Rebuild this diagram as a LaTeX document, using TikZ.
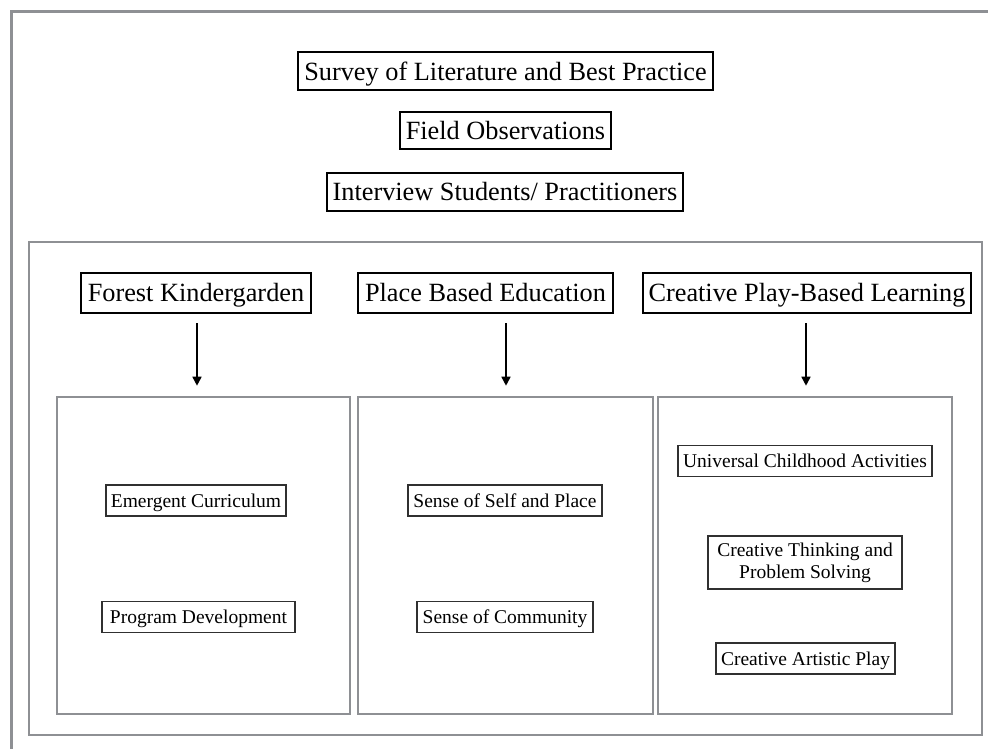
\documentclass[tikz,border=0pt]{standalone}
\usepackage{fontspec}
\setmainfont{Liberation Serif}
\usetikzlibrary{arrows.meta}
\definecolor{framegray}{HTML}{8E9094}
\definecolor{boxline}{HTML}{303030}
\begin{document}
\begin{tikzpicture}[x=1pt,y=-1pt,
  bigtext/.style={font=\fontsize{26.3}{31}\selectfont},
  topbox/.style={bigtext, text height=20pt, text depth=2pt, draw=black, line width=1.2pt, inner sep=0pt, minimum height=38pt},
  headbox/.style={bigtext, text height=19pt, text depth=3pt, draw=black, line width=2.4pt, inner sep=0pt, minimum height=40pt},
  colbox/.style={draw=framegray, line width=2.6pt, inner sep=0pt, minimum height=317pt},
  smallbox/.style={draw=boxline, line width=1.1pt, inner sep=0pt, font=\fontsize{19.5}{23}\selectfont, text height=15pt, text depth=2pt, minimum height=31pt, align=center},
  arr/.style={-{Triangle[length=9pt,width=9pt]}, line width=1.6pt, black, shorten <=10pt, shorten >=10pt}
]
\clip (0,0) rectangle (988,748);
\fill[white] (0,0) rectangle (988,748);
% outer frame (extends past the page on right and bottom)
\draw[framegray, line width=3pt] (11,760) -- (11,11) -- (1000,11);
% top boxes
\node[topbox, minimum width=415pt] (survey) at (505.5,71) {Survey of Literature and Best Practice};
\node[topbox, minimum width=211pt, minimum height=37pt] (field) at (505.5,130.5) {Field Observations};
\node[topbox, minimum width=356pt, text height=19pt, text depth=3pt] (interview) at (505,192) {Interview Students/ Practitioners};
% inner frame
\node[draw=framegray, line width=2.6pt, minimum width=953pt, minimum height=493pt, inner sep=0pt] (inner) at (505.5,488.5) {};
% headers
\node[headbox, minimum width=230pt] (fk) at (196,293) {Forest Kindergarden};
\node[headbox, minimum width=255pt] (pbe) at (485.5,293) {Place Based Education};
\node[headbox, minimum width=328pt] (cpl) at (807,293) {Creative Play-Based Learning};
% column boxes
\node[colbox, minimum width=293pt] (colA) at (203.5,555.5) {};
\node[colbox, minimum width=295pt] (colB) at (505.5,555.5) {};
\node[colbox, minimum width=294pt] (colC) at (805,555.5) {};
% arrows
\coordinate (ha) at (197,313);
\coordinate (hb) at (506,313);
\coordinate (hc) at (806,313);
\draw[arr] (ha) -- (ha |- colA.north);
\draw[arr] (hb) -- (hb |- colB.north);
\draw[arr] (hc) -- (hc |- colC.north);
% small boxes
\node[smallbox, minimum width=180pt] (emc) at (196,500.5) {Emergent Curriculum};
\node[smallbox, minimum width=193pt] (prd) at (198.5,617) {Program Development};
\node[smallbox, minimum width=194pt] (ssp) at (505,500.5) {Sense of Self and Place};
\node[smallbox, minimum width=176pt] (soc) at (505,617) {Sense of Community};
\node[smallbox, minimum width=254pt] (uca) at (805,461) {Universal Childhood Activities};
\node[smallbox, minimum width=194pt, minimum height=53pt, text height=, text depth=] (ctp) at (805,562.5) {\raisebox{-2pt}{\shortstack{Creative Thinking and\\[1pt]Problem Solving}}};
\node[smallbox, minimum width=179pt] (cap) at (805.5,658.5) {Creative Artistic Play};
\end{tikzpicture}
\end{document}
